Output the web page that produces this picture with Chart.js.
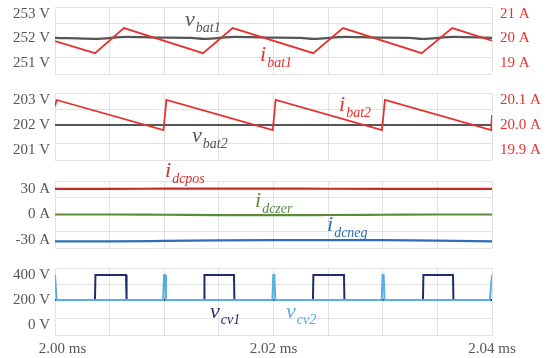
<!DOCTYPE html>
<html>
<head>
<meta charset="utf-8">
<script src="https://cdn.jsdelivr.net/npm/chart.js@4.4.1/dist/chart.umd.min.js"></script>
<style>
  html, body { margin: 0; padding: 0; background: #fff; }
  #wrap { position: relative; width: 548px; height: 358px; overflow: hidden; }
  #wrap canvas { position: absolute; left: 0; }
</style>
</head>
<body>
<div id="wrap">
  <canvas id="p1" width="548" height="109" style="top:-15px"></canvas>
  <canvas id="p2" width="548" height="109" style="top:71px"></canvas>
  <canvas id="p3" width="548" height="109" style="top:159px"></canvas>
  <canvas id="p4" width="548" height="112" style="top:246px"></canvas>
</div>
<script>
// Axe du temps (ms)
const xGridTicks = [2.000, 2.005, 2.010, 2.015, 2.020, 2.025, 2.030, 2.035, 2.040];
const xTickValues = [2.00, 2.02, 2.04];
const xTickLabels = ['\u20032.00 ms', '2.02 ms', '2.04 ms'];

// Panneau 1 : batterie 1
const vbat1Time = [2.000, 2.0037, 2.0066, 2.0095, 2.0125, 2.0136, 2.0166, 2.0195, 2.0225, 2.0236, 2.0266, 2.0295, 2.0325, 2.0336, 2.0366, 2.040];
const vbat1Values = [252.03, 251.99, 252.07, 252.04, 252.03, 251.99, 252.07, 252.04, 252.03, 251.99, 252.07, 252.04, 252.03, 251.99, 252.07, 252.03];
const ibat1Time = [2.000, 2.00366, 2.00631, 2.01355, 2.01626, 2.02364, 2.02636, 2.03356, 2.03636, 2.040];
const ibat1Values = [19.90, 19.40, 20.43, 19.40, 20.43, 19.40, 20.43, 19.40, 20.43, 19.91];
const p1LeftTicks = [251, 252, 253];
const p1RightTicks = [19, 20, 21];

// Panneau 2 : batterie 2
const vbat2Time = [2.000, 2.010, 2.020, 2.030, 2.040];
const vbat2Values = [202.0, 202.0, 202.0, 202.0, 202.0];
const ibat2Time = [2.000, 2.00015, 2.00993, 2.0102, 2.01993, 2.0202, 2.02993, 2.0302, 2.03993, 2.040];
const ibat2Values = [20.075, 20.10, 19.98, 20.10, 19.98, 20.10, 19.98, 20.10, 19.98, 20.04];
const p2LeftTicks = [201, 202, 203];
const p2RightTicks = [19.9, 20.0, 20.1];

// Panneau 3 : courants du bus continu
const idcTime = [2.000, 2.005, 2.010, 2.015, 2.020, 2.025, 2.030, 2.035, 2.040];
const idcposValues = [29.9, 29.9, 30.1, 30.2, 30.1, 30.0, 29.9, 29.9, 29.9];
const idczerValues = [0.0, 0.0, -0.3, -0.7, -0.8, -0.6, -0.3, 0.0, 0.0];
const idcnegValues = [-31.2, -31.2, -30.8, -30.2, -29.9, -29.8, -29.9, -30.4, -31.2];
const p3LeftTicks = [-30, 0, 30];

// Panneau 4 : tensions des convertisseurs
const vcv1Time = [2.000, 2.00366, 2.0037, 2.0065, 2.00655, 2.01364, 2.01368, 2.01638, 2.01642, 2.02361, 2.02365, 2.02645, 2.02649, 2.03368, 2.03372, 2.03643, 2.03647, 2.040];
const vcv1Values = [200, 200, 400, 400, 200, 200, 400, 400, 200, 200, 400, 400, 200, 200, 400, 400, 200, 200];
const vcv2Time = [2.000, 2.00015, 2.0099, 2.00998, 2.01008, 2.01016, 2.0199, 2.01998, 2.02008, 2.02016, 2.0299, 2.02998, 2.03008, 2.03016, 2.0398, 2.040];
const vcv2Values = [400, 200, 200, 400, 400, 200, 200, 400, 400, 200, 200, 400, 400, 200, 200, 400];
const p4LeftTicks = [0, 200, 400];

// Couleurs
const GRID = '#e2e2e2';
const TEXT = '#555555';
const RED = '#e3342f';
const GRAY = '#555555';

const TICK_FONT = { family: '"Liberation Serif", serif', size: 15 };

function points(t, v) {
    return t.map((x, i) => ({ x: x, y: v[i] }));
}

function near(list, v) {
    return list.some(a => Math.abs(a - v) < 1e-6);
}

// Étiquettes mathématiques (lettre + indice)
const mathLabels = {
    id: 'mathLabels',
    afterDatasetsDraw(chart, args, opts) {
        const ctx = chart.ctx;
        const xs = chart.scales.x;
        const ys = chart.scales.y;
        (opts.items || []).forEach(it => {
            const px = xs.getPixelForValue(it.x);
            const py = ys.getPixelForValue(it.y);
            ctx.save();
            ctx.fillStyle = it.color;
            ctx.textBaseline = 'alphabetic';
            ctx.font = 'italic 22px "Liberation Serif"';
            ctx.fillText(it.main, px, py);
            const w = ctx.measureText(it.main).width;
            ctx.font = 'italic 14px "Liberation Serif"';
            ctx.fillText(it.sub, px + w + 1, py + 6);
            ctx.restore();
        });
    }
};

function line(data, color, width, smooth) {
    return {
        data: data,
        borderColor: color,
        borderWidth: width,
        pointRadius: 0,
        fill: false,
        tension: smooth ? 0.4 : 0,
        cubicInterpolationMode: smooth ? 'monotone' : 'default'
    };
}

function makePanel(id, cfg) {
    const min = cfg.range[0], max = cfg.range[1];
    // grille : bords + quarts (pas au centre)
    const quarters = [0, 1, 3, 4].map(k => min + (max - min) * k / 4);

    const scales = {
        x: {
            type: 'linear',
            min: 2.0,
            max: 2.04,
            border: { display: false },
            grid: { color: GRID, drawTicks: false },
            afterBuildTicks: s => { s.ticks = xGridTicks.map(v => ({ value: v })); },
            afterFit: s => { s.height = cfg.showX ? 23 : 0; },
            ticks: {
                display: !!cfg.showX,
                autoSkip: false,
                maxRotation: 0,
                padding: 5,
                color: TEXT,
                font: TICK_FONT,
                callback: v => {
                    const i = xTickValues.findIndex(a => Math.abs(a - v) < 1e-6);
                    return i >= 0 ? xTickLabels[i] : '';
                }
            }
        },
        y: {
            type: 'linear',
            position: 'left',
            min: min,
            max: max,
            border: { display: false },
            grid: {
                drawTicks: false,
                color: c => near(cfg.ticks, c.tick.value) ? 'rgba(0,0,0,0)' : GRID
            },
            afterBuildTicks: s => {
                s.ticks = quarters.concat(cfg.ticks).sort((a, b) => a - b).map(v => ({ value: v }));
            },
            afterFit: s => { s.width = 55; },
            ticks: {
                autoSkip: false,
                padding: 5,
                color: TEXT,
                font: TICK_FONT,
                callback: v => near(cfg.ticks, v) ? v.toFixed(0) + ' ' + cfg.unit : ''
            }
        }
    };

    if (cfg.right) {
        scales.y1 = {
            type: 'linear',
            position: 'right',
            min: cfg.right.range[0],
            max: cfg.right.range[1],
            border: { display: false },
            grid: { display: false, drawTicks: false },
            afterBuildTicks: s => { s.ticks = cfg.right.ticks.map(v => ({ value: v })); },
            afterFit: s => { s.width = 56; },
            ticks: {
                autoSkip: false,
                padding: 8,
                color: RED,
                font: TICK_FONT,
                callback: v => v.toFixed(cfg.right.decimals) + ' ' + cfg.right.unit
            }
        };
    }

    new Chart(document.getElementById(id), {
        type: 'line',
        data: { datasets: cfg.datasets },
        options: {
            responsive: false,
            animation: false,
            devicePixelRatio: 1,
            layout: {
                padding: { top: 22, bottom: cfg.showX ? 0 : 20, left: 0, right: cfg.right ? 0 : 56 }
            },
            scales: scales,
            plugins: {
                legend: { display: false },
                tooltip: { enabled: false },
                mathLabels: { items: cfg.labels }
            }
        },
        plugins: [mathLabels]
    });
}

// Panneau 1
const ibat1 = line(points(ibat1Time, ibat1Values), RED, 1.8, false);
ibat1.yAxisID = 'y1';
makePanel('p1', {
    range: [250.55, 253.29],
    ticks: p1LeftTicks,
    unit: 'V',
    right: { range: [18.55, 21.29], ticks: p1RightTicks, unit: 'A', decimals: 0 },
    datasets: [ibat1, line(points(vbat1Time, vbat1Values), GRAY, 2.2, true)],
    labels: [
        { main: 'v', sub: 'bat1', x: 2.0119, y: 252.51, color: GRAY },
        { main: 'i', sub: 'bat1', x: 2.01877, y: 251.08, color: RED }
    ]
});

// Panneau 2
const ibat2 = line(points(ibat2Time, ibat2Values), RED, 1.8, false);
ibat2.yAxisID = 'y1';
makePanel('p2', {
    range: [200.6, 203.28],
    ticks: p2LeftTicks,
    unit: 'V',
    right: { range: [19.86, 20.128], ticks: p2RightTicks, unit: 'A', decimals: 1 },
    datasets: [ibat2, line(points(vbat2Time, vbat2Values), GRAY, 2.2, false)],
    labels: [
        { main: 'v', sub: 'bat2', x: 2.01254, y: 201.32, color: GRAY },
        { main: 'i', sub: 'bat2', x: 2.026, y: 202.56, color: RED }
    ]
});

// Panneau 3
makePanel('p3', {
    range: [-39, 39],
    ticks: p3LeftTicks,
    unit: 'A',
    right: null,
    datasets: [
        line(points(idcTime, idcposValues), '#c62a28', 2.2, true),
        line(points(idcTime, idczerValues), '#5a8c3a', 2.2, true),
        line(points(idcTime, idcnegValues), '#2e6fb5', 2.2, true)
    ],
    labels: [
        { main: 'i', sub: 'dcpos', x: 2.01007, y: 43.7, color: '#cc3333' },
        { main: 'i', sub: 'dczer', x: 2.01831, y: 8.7, color: '#5a8c3a' },
        { main: 'i', sub: 'dcneg', x: 2.0249, y: -19.2, color: '#2e6fb5' }
    ]
});

// Panneau 4
makePanel('p4', {
    range: [-80, 456],
    ticks: p4LeftTicks,
    unit: 'V',
    right: null,
    showX: true,
    datasets: [
        line(points(vcv2Time, vcv2Values), '#5aaee0', 2, false),
        line(points(vcv1Time, vcv1Values), '#1f2d6e', 2, false)
    ],
    labels: [
        { main: 'v', sub: 'cv1', x: 2.01419, y: 55.6, color: '#1f2d6e' },
        { main: 'v', sub: 'cv2', x: 2.02114, y: 55.6, color: '#5aaee0' }
    ]
});
</script>
</body>
</html>
